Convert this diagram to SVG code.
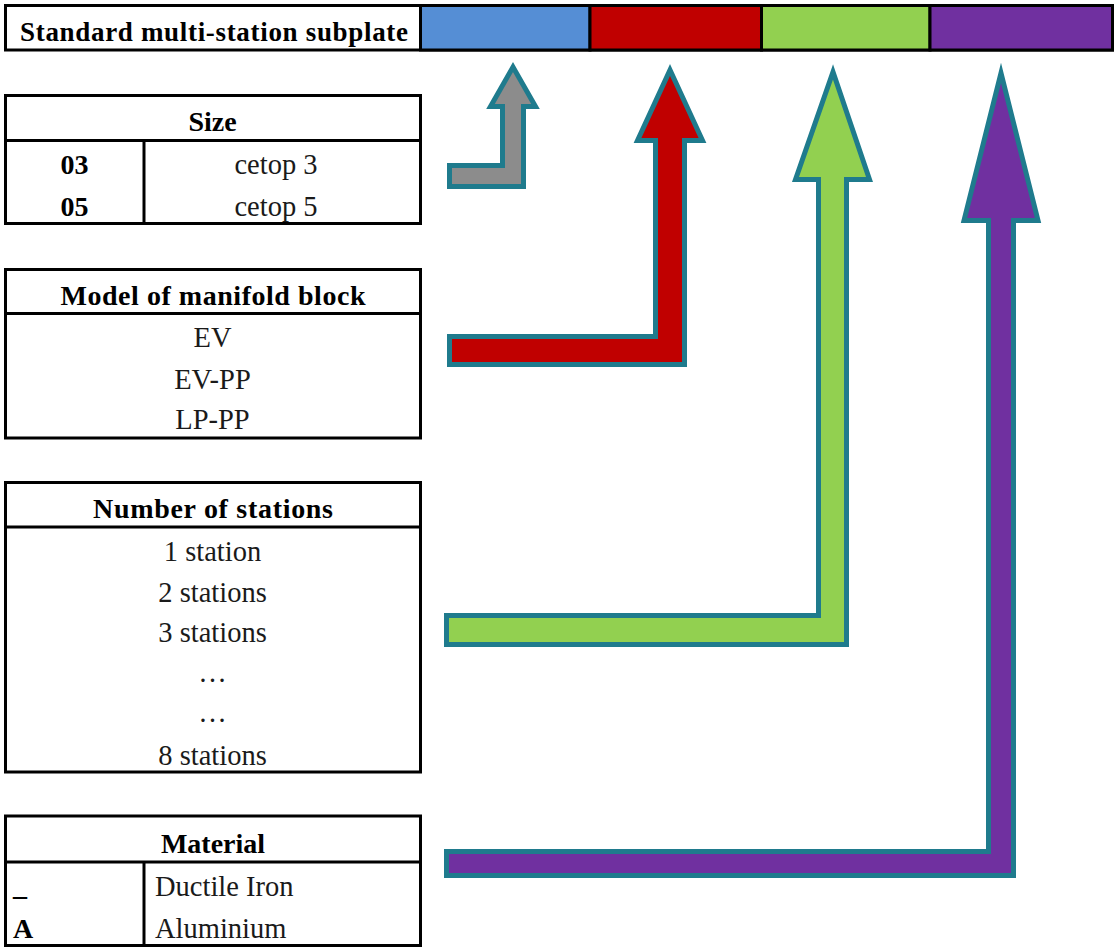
<svg xmlns="http://www.w3.org/2000/svg" width="1116" height="949" viewBox="0 0 1116 949">
<style>
.box{fill:#fff;stroke:#000;stroke-width:3}
.ln{stroke:#000;stroke-width:3}
.h{font-family:"Liberation Serif",serif;font-weight:bold;font-size:28px;fill:#000;text-anchor:middle}
.t{font-family:"Liberation Serif",serif;font-size:28.5px;fill:#1a1a1a;text-anchor:middle}
.l{text-anchor:start}
.arr{stroke:#1f7b8d;stroke-width:5;stroke-linejoin:miter;stroke-miterlimit:12}
</style>
<rect width="1116" height="949" fill="#fff"/>
<g id="header">
<rect x="5.5" y="5.5" width="1107" height="44.5" class="box"/>
<rect x="420.5" y="5.5" width="169.5" height="44.5" fill="#558ed5" stroke="#000" stroke-width="3"/>
<rect x="590" y="5.5" width="171.5" height="44.5" fill="#c00000" stroke="#000" stroke-width="3"/>
<rect x="761.5" y="5.5" width="168.5" height="44.5" fill="#92d050" stroke="#000" stroke-width="3"/>
<rect x="930" y="5.5" width="182.5" height="44.5" fill="#7030a0" stroke="#000" stroke-width="3"/>
<text x="20" y="41" class="h l" style="font-size:27px" textLength="388">Standard multi-station subplate</text>
</g>
<g id="size">
<rect x="5.5" y="95.5" width="415" height="128" class="box"/>
<line x1="5.5" y1="140.5" x2="420.5" y2="140.5" class="ln"/>
<line x1="144" y1="140.5" x2="144" y2="223.5" class="ln"/>
<text x="212.5" y="131" class="h">Size</text>
<text x="74.5" y="174" class="h">03</text>
<text x="276" y="174" class="t">cetop 3</text>
<text x="74.5" y="216" class="h">05</text>
<text x="276" y="216" class="t">cetop 5</text>
</g>
<g id="model">
<rect x="5.5" y="269.5" width="415" height="168.5" class="box"/>
<line x1="5.5" y1="313.5" x2="420.5" y2="313.5" class="ln"/>
<text x="213" y="305" class="h" textLength="305">Model of manifold block</text>
<text x="212.5" y="347" class="t">EV</text>
<text x="212.5" y="389" class="t">EV-PP</text>
<text x="212.5" y="429" class="t">LP-PP</text>
</g>
<g id="stations">
<rect x="5.5" y="482.5" width="415" height="289.5" class="box"/>
<line x1="5.5" y1="527" x2="420.5" y2="527" class="ln"/>
<text x="213" y="518" class="h" textLength="240">Number of stations</text>
<text x="212.5" y="561" class="t">1 station</text>
<text x="212.5" y="602" class="t">2 stations</text>
<text x="212.5" y="642" class="t">3 stations</text>
<text x="212.5" y="682" class="t">…</text>
<text x="212.5" y="722" class="t">…</text>
<text x="212.5" y="765" class="t">8 stations</text>
</g>
<g id="material">
<rect x="5.5" y="816" width="415" height="129.5" class="box"/>
<line x1="5.5" y1="862" x2="420.5" y2="862" class="ln"/>
<line x1="144" y1="862" x2="144" y2="945.5" class="ln"/>
<text x="213" y="853" class="h">Material</text>
<text x="13" y="895" class="h l">_</text>
<text x="155" y="896" class="t l">Ductile Iron</text>
<text x="13" y="938" class="h l">A</text>
<text x="155" y="938" class="t l">Aluminium</text>
</g>
<g id="connectors">
<polygon class="arr" fill="#8c8c8c" points="449.5,165.5 502.5,165.5 502.5,106.5 490.5,106.5 513,67 535.5,106.5 523.5,106.5 523.5,186.5 449.5,186.5"/>
<polygon class="arr" fill="#c00000" points="449.5,336.5 655.5,336.5 655.5,140.5 637.5,140.5 670,70 702.5,140.5 684.5,140.5 684.5,364.5 449.5,364.5"/>
<polygon class="arr" fill="#92d050" points="446.5,615.5 818.5,615.5 818.5,179.5 795.5,179.5 833,72 869.5,179.5 846.5,179.5 846.5,644.5 446.5,644.5"/>
<polygon class="arr" fill="#7030a0" points="446.5,851.5 988.5,851.5 988.5,220.5 964,220.5 1001,73 1038,220.5 1013.5,220.5 1013.5,875.5 446.5,875.5"/>
</g>
</svg>
